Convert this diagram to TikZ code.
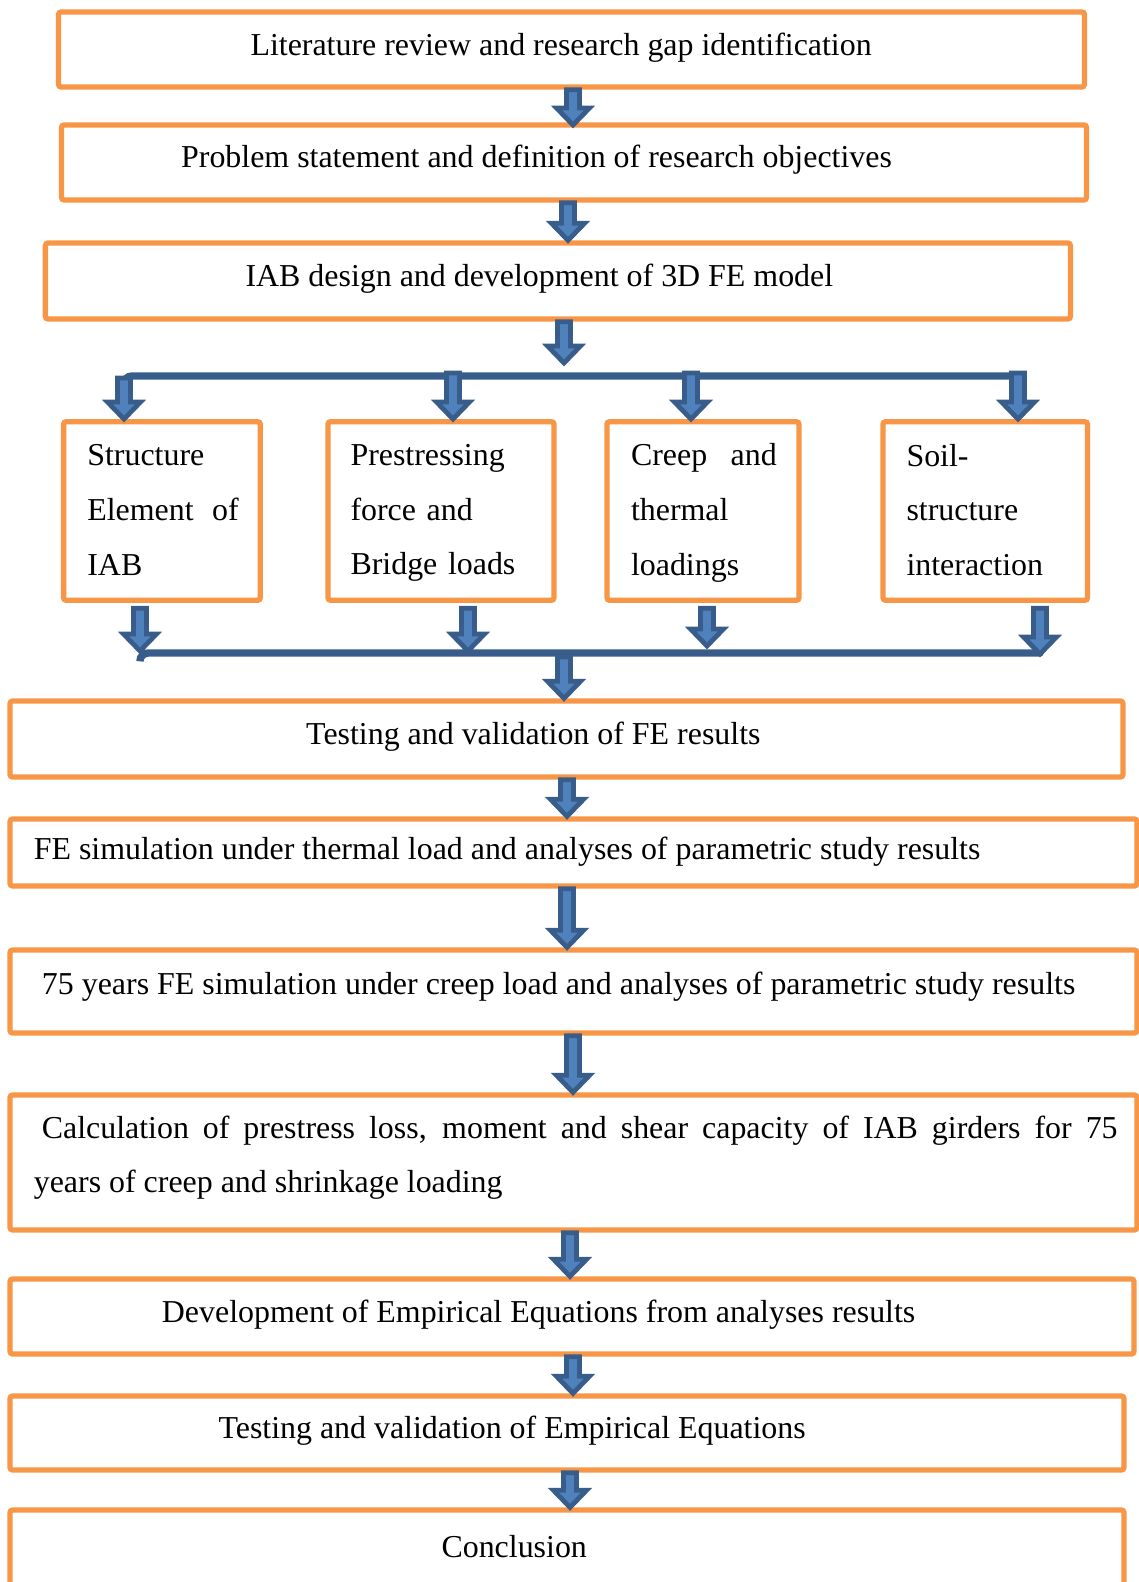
\documentclass[tikz,border=0pt]{standalone}
\usepackage{fontspec}
\setmainfont{Liberation Serif}
\usetikzlibrary{calc,fit}
\definecolor{orn}{HTML}{F79646}
\definecolor{arln}{HTML}{385D8A}
\definecolor{arfill}{HTML}{4F81BD}
\tikzset{
  box/.style={draw=orn,line width=2pt,rounded corners=1pt,inner sep=0pt},
  txt/.style={inner sep=0pt,anchor=west,font=\fontsize{12pt}{20.6pt}\selectfont},
  mtxt/.style={txt,align=left},
  bar/.style={draw=arln,line width=2.8pt,line cap=round,rounded corners=3pt},
  blk/.style={draw=arln,fill=arfill,line width=1.8pt,line join=miter,
    to path={let \p1=(\tikztostart),\p2=(\tikztotarget) in
      (\x1-2.45pt,\y1) -- (\x1+2.45pt,\y1) -- (\x1+2.45pt,\y2+6.4pt) -- (\x1+6.2pt,\y2+6.4pt)
      -- (\x1,\y2) -- (\x1-6.2pt,\y2+6.4pt) -- (\x1-2.45pt,\y2+6.4pt) -- cycle}},
}
\begin{document}
\begin{tikzpicture}[x=0.376pt,y=-0.376pt]
\useasboundingbox (0,0) rectangle (1139,1582);
\clip (0,0) rectangle (1139,1582);
% main chain, top part
\node[box,fit={(58.5,12) (1084.5,87)}] (lit) {};
\node[txt] (litT) at (250,47.5) {Literature review and research gap identification};
\node[box,fit={(61.5,125) (1086.5,200)}] (prob) {};
\node[txt] (probT) at (180.6,160) {Problem statement and definition of research objectives};
\node[box,fit={(45.4,243) (1070.4,319)}] (iab) {};
\node[txt] (iabT) at (245,278.5) {IAB design and development of 3D FE model};
% four branches
\node[box,fit={(63.6,421.7) (260.3,600.3)}] (s1) {};
\node[mtxt,text width=56.9pt] (s1T) at (86.8,510) {Structure\\Element\hfill of\\IAB};
\node[box,fit={(328,421.7) (554,600.3)}] (s2) {};
\node[mtxt,text width=70pt] (s2T) at (350,513) {Prestressing\\force and\\Bridge loads};
\node[box,fit={(607,421.7) (799,600.3)}] (s3) {};
\node[mtxt,text width=54.8pt] (s3T) at (630.5,513) {Creep\hfill and\\thermal\\loadings};
\node[box,fit={(883,421.7) (1087.5,600.3)}] (s4) {};
\node[mtxt,text width=70pt] (s4T) at (906,510) {Soil-\\structure\\interaction};
% main chain, lower part
\node[box,fit={(10,701) (1123,777)}] (tfe) {};
\node[txt] (tfeT) at (305.7,736.5) {Testing and validation of FE results};
\node[box,fit={(10,819) (1137,886)}] (fesim) {};
\node[txt] (fesimT) at (33.3,851.5) {FE simulation under thermal load and analyses of parametric study results};
\node[box,fit={(10,950) (1137,1033)}] (yrs) {};
\node[txt] (yrsT) at (41.4,986.6) {75 years FE simulation under creep load and analyses of parametric study results};
\node[box,fit={(10,1095) (1137,1230)}] (calc) {};
\node[txt,text width=407.5pt,align=justify] (calcT) at (33.3,1157.7) {\noindent\hspace*{3pt}Calculation of prestress loss, moment and shear capacity of IAB girders for 75\linebreak years of creep and shrinkage loading};
\node[box,fit={(10,1279) (1134,1354)}] (dev) {};
\node[txt] (devT) at (161.4,1314.5) {Development of Empirical Equations from analyses results};
\node[box,fit={(10,1396) (1124,1470)}] (tee) {};
\node[txt] (teeT) at (218,1430.5) {Testing and validation of Empirical Equations};
\node[box,fit={(10,1510) (1124,1600)}] (conc) {};
\node[txt] (concT) at (441,1546.5) {Conclusion};
% split and merge bars
\coordinate (split) at (564,363);
\coordinate (tbl) at (124,386);
\coordinate (tbr) at (1022,376);
\coordinate (d1) at (124,378);
\coordinate (d2) at (453,373);
\coordinate (d3) at (691,373);
\coordinate (d4) at (1018,373);
\coordinate (bbl) at (140,660);
\coordinate (bbr) at (1040,653);
\coordinate (j1) at (140,651);
\coordinate (j2) at (468,651);
\coordinate (j3) at (707,646);
\coordinate (j4) at (1040,654);
\coordinate (merge) at (564,657);
\draw[bar] (tbl) |- (tbr);
\draw[bar] (bbl) |- (bbr);
% block arrows
\draw[blk] (lit.south -| 573,0) to ([yshift=-1pt]prob.north);
\draw[blk] (prob.south -| 568,0) to (iab.north);
\draw[blk] (iab.south -| 564,0) to (split);
\foreach \d/\s in {d1/s1,d2/s2,d3/s3,d4/s4}
  \draw[blk] (\d) to (\s.north -| \d);
\foreach \j/\s in {j1/s1,j2/s2,j3/s3,j4/s4}
  \draw[blk] ([yshift=-2pt]\s.south -| \j) to (\j);
\draw[blk] (merge) to (tfe.north);
\draw[blk] (tfe.south -| 567,0) to (fesim.north);
\draw[blk] (fesim.south -| 567,0) to (yrs.north);
\draw[blk] (yrs.south -| 573,0) to (calc.north);
\draw[blk] (calc.south -| 570,0) to (dev.north);
\draw[blk] (dev.south -| 573,0) to (tee.north);
\draw[blk] (tee.south -| 570,0) to (conc.north);
\end{tikzpicture}
\end{document}
